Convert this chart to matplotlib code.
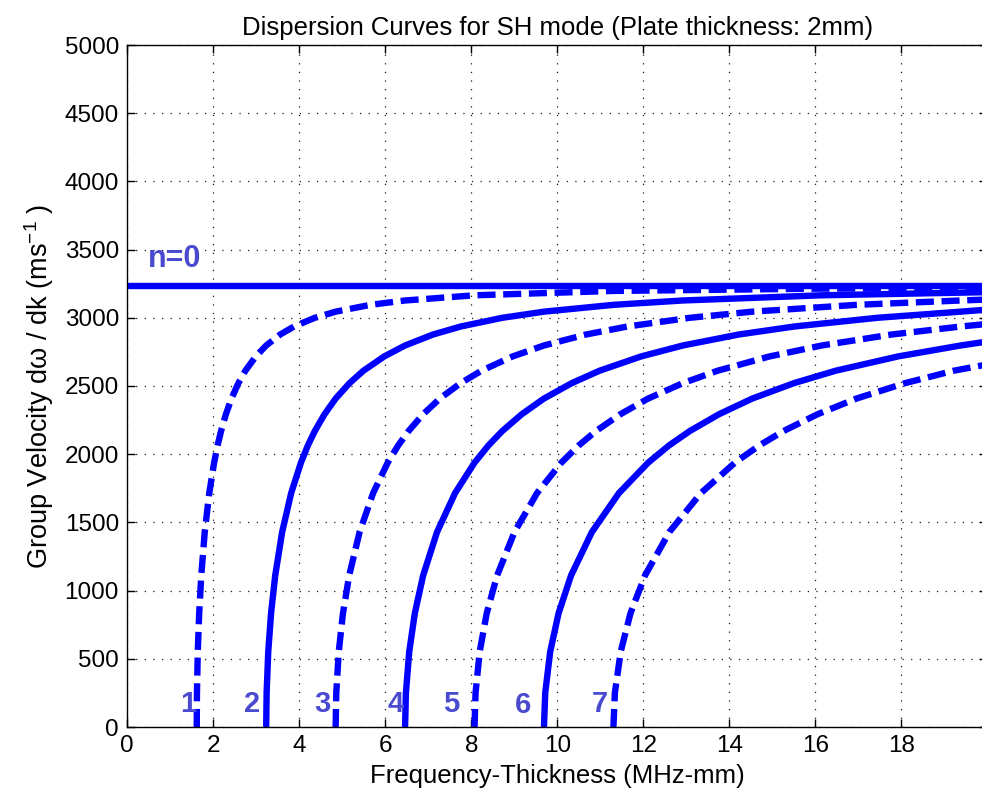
import matplotlib
matplotlib.use("Agg")
import matplotlib.pyplot as plt

plt.rcParams['font.family'] = ['Liberation Sans', 'DejaVu Sans']
plt.rcParams['mathtext.fontset'] = 'custom'
plt.rcParams['mathtext.rm'] = 'Liberation Sans'
plt.rcParams['mathtext.it'] = 'Liberation Sans:italic'
plt.rcParams['lines.scale_dashes'] = False

# ---- data ----
mode0_f = [0.0, 20.0]
mode0_v = [3230, 3230]

mode1_f = [1.615, 1.620, 1.639, 1.672, 1.720, 1.801, 1.906, 2.019, 2.100, 2.180, 2.293, 2.423,
           2.584, 2.746, 2.988, 3.230, 3.553, 3.876, 4.361, 4.845, 5.653, 6.460, 8.075, 11.305,
           16.15, 20.0]
mode1_v = [0, 250, 553, 833, 1111, 1429, 1715, 1938, 2064, 2170, 2293, 2408, 2521, 2612, 2717,
           2797, 2877, 2936, 3000, 3045, 3095, 3127, 3165, 3197, 3214, 3219]

mode2_f = [3.230, 3.240, 3.278, 3.343, 3.440, 3.601, 3.811, 4.038, 4.199, 4.361, 4.587, 4.845,
           5.168, 5.491, 5.976, 6.460, 7.106, 7.752, 8.721, 9.690, 11.305, 12.92, 16.15, 20.0]
mode2_v = [0, 250, 553, 833, 1111, 1429, 1715, 1938, 2064, 2170, 2293, 2408, 2521, 2612, 2717,
           2797, 2877, 2936, 3000, 3045, 3095, 3127, 3165, 3188]

mode3_f = [4.845, 4.860, 4.918, 5.015, 5.160, 5.402, 5.717, 6.056, 6.299, 6.541, 6.880, 7.268,
           7.752, 8.237, 8.963, 9.690, 10.659, 11.628, 13.082, 14.535, 16.958, 19.38, 20.0]
mode3_v = [0, 250, 553, 833, 1111, 1429, 1715, 1938, 2064, 2170, 2293, 2408, 2521, 2612, 2717,
           2797, 2877, 2936, 3000, 3045, 3095, 3127, 3134]

mode4_f = [6.460, 6.479, 6.557, 6.686, 6.880, 7.203, 7.623, 8.075, 8.398, 8.721, 9.173, 9.690,
           10.336, 10.982, 11.951, 12.92, 14.212, 15.504, 17.442, 19.38, 20.0]
mode4_v = [0, 250, 553, 833, 1111, 1429, 1715, 1938, 2064, 2170, 2293, 2408, 2521, 2612, 2717,
           2797, 2877, 2936, 3000, 3045, 3060]

mode5_f = [8.075, 8.099, 8.196, 8.358, 8.600, 9.004, 9.529, 10.094, 10.498, 10.901, 11.467,
           12.113, 12.92, 13.728, 14.939, 16.15, 17.765, 19.38, 20.0]
mode5_v = [0, 250, 553, 833, 1111, 1429, 1715, 1938, 2064, 2170, 2293, 2408, 2521, 2612, 2717,
           2797, 2877, 2936, 2955]

mode6_f = [9.690, 9.719, 9.835, 10.029, 10.320, 10.804, 11.434, 12.113, 12.597, 13.082, 13.760,
           14.535, 15.504, 16.473, 17.927, 19.38, 20.0]
mode6_v = [0, 250, 553, 833, 1111, 1429, 1715, 1938, 2064, 2170, 2293, 2408, 2521, 2612, 2717,
           2797, 2826]

mode7_f = [11.305, 11.339, 11.475, 11.701, 12.040, 12.605, 13.340, 14.131, 14.697, 15.262,
           16.053, 16.958, 18.088, 19.219, 20.0]
mode7_v = [0, 250, 553, 833, 1111, 1429, 1715, 1938, 2064, 2170, 2293, 2408, 2521, 2612, 2658]

mode_labels = ['1', '2', '3', '4', '5', '6', '7']
label_f = [1.42, 2.89, 4.54, 6.23, 7.54, 9.21, 11.0]
label_v = [165, 170, 170, 170, 165, 160, 170]

xticks = [0, 2, 4, 6, 8, 10, 12, 14, 16, 18]
yticks = [0, 500, 1000, 1500, 2000, 2500, 3000, 3500, 4000, 4500, 5000]

# ---- figure ----
W, H = 982, 801
fig = plt.figure(figsize=(W / 100, H / 100), dpi=100)
left, right, bottom, top = 127.3, 987.3, 727.0, 45.0
ax = fig.add_axes([left / W, (H - bottom) / H, (right - left) / W, (bottom - top) / H])

blue = '#0000ff'
lw = 4.6
dash = (0, (13, 5.5))

ax.plot(mode0_f, mode0_v, color=blue, lw=lw, solid_capstyle='butt')
series = [(mode1_f, mode1_v), (mode2_f, mode2_v), (mode3_f, mode3_v), (mode4_f, mode4_v),
          (mode5_f, mode5_v), (mode6_f, mode6_v), (mode7_f, mode7_v)]
for i, (f, v) in enumerate(series):
    if i % 2 == 0:
        ax.plot(f, v, color=blue, lw=lw, ls=dash, dash_capstyle='butt')
    else:
        ax.plot(f, v, color=blue, lw=lw, solid_capstyle='butt')

lab_color = '#4a4ad0'
for t, x, y in zip(mode_labels, label_f, label_v):
    ax.text(x, y, t, color=lab_color, fontsize=21, fontweight='bold', ha='center', va='center')
ax.text(1.10, 3430, 'n=0', color=lab_color, fontsize=22, fontweight='bold', ha='center', va='center')

ax.set_xlim(0, 20)
ax.set_ylim(0, 5000)
ax.set_xticks(xticks)
ax.set_yticks(yticks)
ax.tick_params(direction='in', length=6, width=1, labelsize=17.5, top=True, right=True, pad=6)
ax.grid(True, color='0.1', ls=(0, (0.9, 5.3)), lw=0.9)
ax.set_axisbelow(True)
for s in ax.spines.values():
    s.set_linewidth(1.0)

ax.set_title('Dispersion Curves for SH mode (Plate thickness: 2mm)', fontsize=18.5, pad=7)
ax.set_xlabel('Frequency-Thickness (MHz-mm)', fontsize=18.5, labelpad=5)
ax.set_ylabel('Group Velocity d\u03c9 / dk (ms$^{-1}$ )', fontsize=19.5, labelpad=6)

fig.savefig('out.png', dpi=100)
